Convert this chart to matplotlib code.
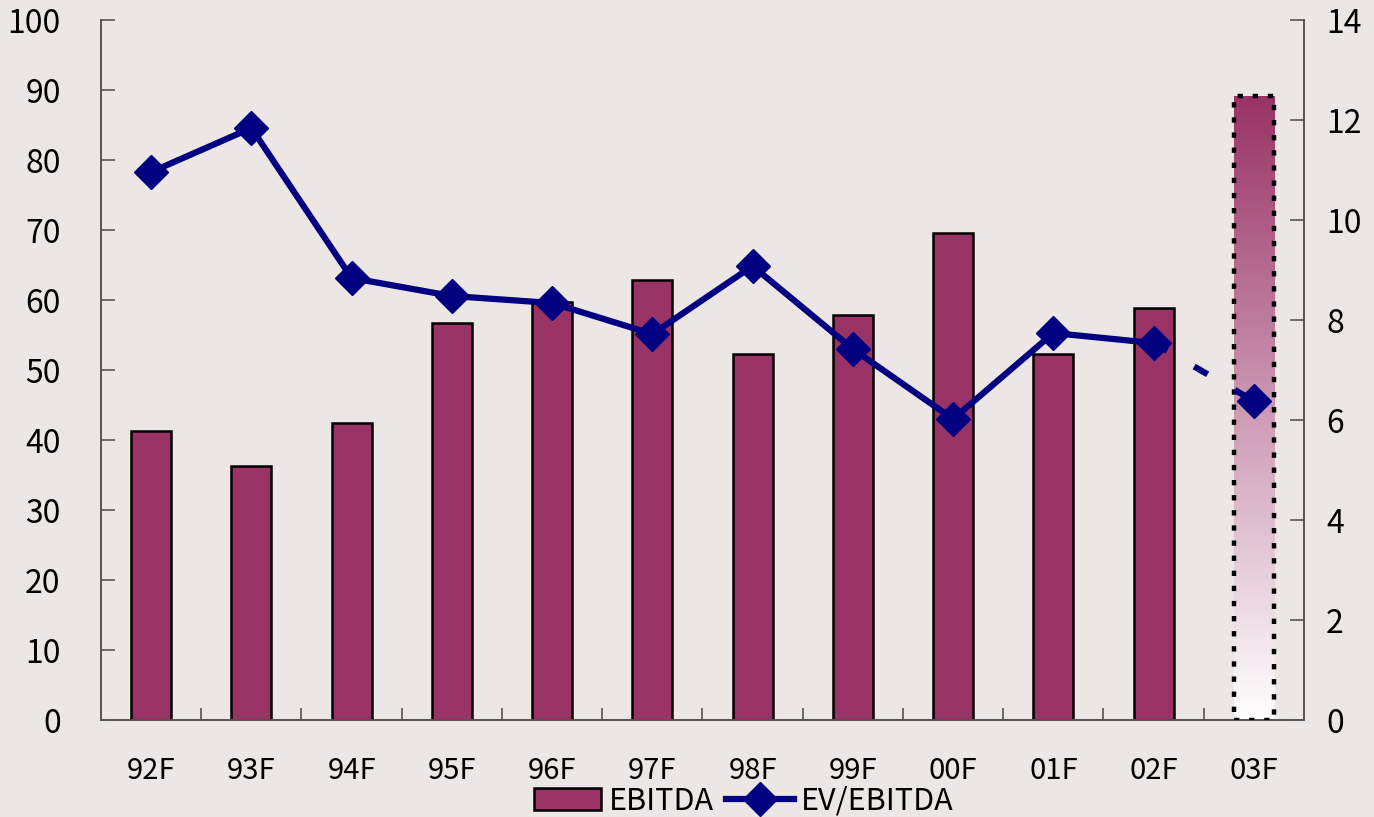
import numpy as np
import matplotlib
matplotlib.use('Agg')
import matplotlib.pyplot as plt
from matplotlib.colors import LinearSegmentedColormap
from matplotlib.lines import Line2D
from matplotlib.patches import Patch

plt.rcParams['font.family'] = ['Noto Sans CJK JP', 'DejaVu Sans']

# data
years = ['92F', '93F', '94F', '95F', '96F', '97F', '98F', '99F', '00F', '01F', '02F', '03F']
ebitda = [41.3, 36.3, 42.4, 56.7, 59.7, 62.9, 52.3, 57.9, 69.6, 52.3, 58.9, 89.1]
ev_ebitda = [10.96, 11.84, 8.84, 8.48, 8.34, 7.72, 9.08, 7.42, 6.02, 7.74, 7.54, 6.38]

bg = '#ECE7E4'
bar_col = '#993366'
line_col = '#000080'
axis_col = '#555555'

fig = plt.figure(figsize=(13.74, 8.17), dpi=100, facecolor=bg)
ax = fig.add_axes([0.0735, 0.1187, 0.8755, 0.8568])
ax.set_facecolor(bg)
x = np.arange(len(years))

# solid bars for actuals
ax.bar(x[:-1], ebitda[:-1], width=0.4, color=bar_col, edgecolor='black', linewidth=1.8, zorder=2)

# forecast bar: gradient with dotted outline
last = ax.bar(x[-1:], ebitda[-1:], width=0.4, facecolor='none', edgecolor='black',
              linewidth=3.2, linestyle=(0, (1.2, 2.2)), zorder=3)[0]
cmap = LinearSegmentedColormap.from_list('grad', ['white', bar_col])
grad = np.linspace(0, 1, 256).reshape(-1, 1)
bx, bw, bh = last.get_x(), last.get_width(), last.get_height()
im = ax.imshow(grad, cmap=cmap, origin='lower', aspect='auto',
               extent=[bx, bx + bw, 0, bh], zorder=2)
im.set_clip_path(last)

ax.set_xlim(-0.5, len(years) - 0.5)
ax.set_ylim(0, 100)
ax.set_yticks(range(0, 101, 10))
ax.set_xticks(x)
ax.set_xticklabels(years)
ax.set_xticks(np.arange(0.5, len(years) - 0.5, 1), minor=True)
ax.tick_params(axis='x', which='major', length=0, pad=26, labelsize=21)
ax.tick_params(axis='x', which='minor', direction='in', length=9, width=1.2, color=axis_col)
ax.tick_params(axis='y', direction='in', length=10, width=1.2, color=axis_col, labelsize=23, pad=29)

for s in ['left', 'bottom']:
    ax.spines[s].set_color(axis_col)
    ax.spines[s].set_linewidth(1.4)
ax.spines['top'].set_visible(False)
ax.spines['right'].set_visible(False)

ax2 = ax.twinx()
ax2.set_ylim(0, 14)
ax2.set_yticks(range(0, 15, 2))
ax2.tick_params(axis='y', direction='in', length=10, width=1.2, color=axis_col, labelsize=23, pad=16)
ax2.spines['right'].set_color(axis_col)
ax2.spines['right'].set_linewidth(1.4)
for s in ['left', 'top', 'bottom']:
    ax2.spines[s].set_visible(False)

ax2.plot(x[:-1], ev_ebitda[:-1], color=line_col, linewidth=4.5, marker='D', markersize=17, zorder=4)
ax2.plot(x[-2:], ev_ebitda[-2:], color=line_col, linewidth=4.5, linestyle=(0, (2.5, 5)), zorder=4)
ax2.plot(x[-1:], ev_ebitda[-1:], color=line_col, linestyle='none', marker='D', markersize=17, zorder=5)

handles = [Patch(facecolor=bar_col, edgecolor='black', linewidth=1.8),
           Line2D([], [], color=line_col, linewidth=4.5, marker='D', markersize=17)]
fig.legend(handles, ['EBITDA', 'EV/EBITDA'], loc='center', bbox_to_anchor=(744 / 1374, 1 - 801 / 817),
           ncol=2, frameon=False, fontsize=22, handlelength=2.2, handletextpad=0.25, columnspacing=0.4)

fig.savefig('out.png', dpi=100, facecolor=bg)
